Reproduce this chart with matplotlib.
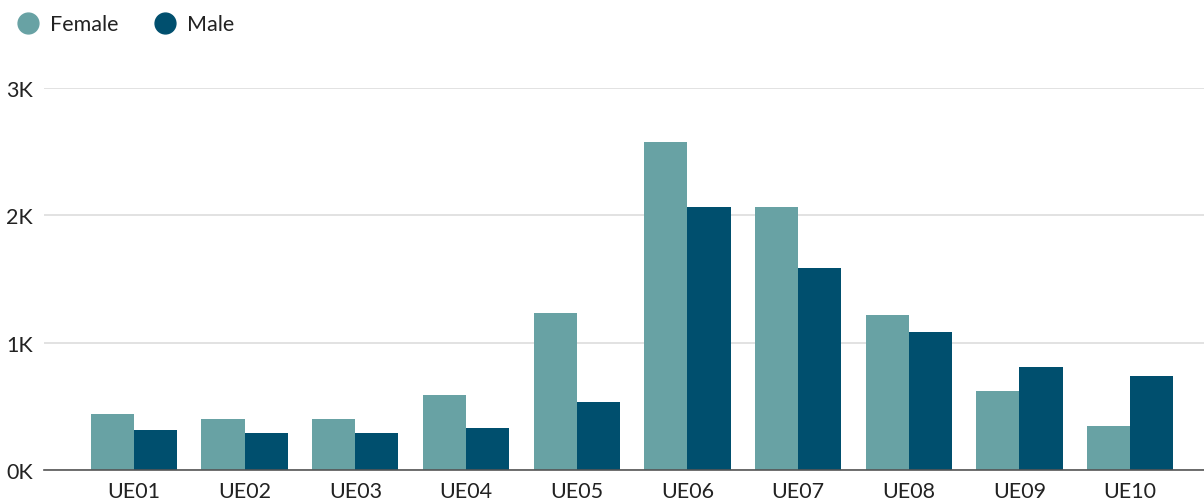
import numpy as np
import matplotlib.pyplot as plt
from matplotlib.lines import Line2D
from matplotlib.ticker import FuncFormatter

plt.rcParams["font.family"] = ["Lato", "DejaVu Sans"]

regions = ["UE01", "UE02", "UE03", "UE04", "UE05", "UE06", "UE07", "UE08", "UE09", "UE10"]
female = [440, 400, 400, 590, 1235, 2575, 2065, 1218, 620, 346]
male = [314, 290, 290, 330, 534, 2065, 1586, 1084, 809, 738]

female_color = "#68A2A4"
male_color = "#004F6E"

fig = plt.figure(figsize=(12.04, 5.02), dpi=100)
ax = fig.add_axes([44 / 1204, 1 - 471 / 502, 1 - 44 / 1204, (471 - 89) / 502])

x = np.arange(len(regions))
w = 0.39
ax.bar(x - w / 2, female, width=w, color=female_color, zorder=2)
ax.bar(x + w / 2, male, width=w, color=male_color, zorder=2)

ax.set_xlim(-0.813, 9.668)
ax.set_ylim(0, 3000)
ax.set_yticks([0, 1000, 2000, 3000])
ax.yaxis.set_major_formatter(FuncFormatter(lambda v, p: f"{int(v / 1000)}K"))
ax.set_xticks(x)
ax.set_xticklabels(regions)

ax.grid(axis="y", color="#DDDDDD", linewidth=1.2, zorder=0)
ax.set_axisbelow(True)
for s in ["top", "right", "left"]:
    ax.spines[s].set_visible(False)
ax.spines["bottom"].set_color("#555555")
ax.spines["bottom"].set_linewidth(1.2)
ax.spines["bottom"].set_zorder(3)

ax.tick_params(axis="x", length=0, pad=8, labelsize=15.5, labelcolor="#222222")
ax.tick_params(axis="y", length=0, pad=0, labelsize=15.5, labelcolor="#222222")
for lbl in ax.get_yticklabels():
    lbl.set_horizontalalignment("left")
    lbl.set_x(-44 / 1160 + 6 / 1160)

handles = [
    Line2D([], [], marker="o", linestyle="", markersize=15, color=female_color),
    Line2D([], [], marker="o", linestyle="", markersize=15, color=male_color),
]
fig.legend(handles, ["Female", "Male"], loc="upper left", bbox_to_anchor=(0.0, 1.0),
           ncol=2, frameon=False, fontsize=15.5, handletextpad=0.4, columnspacing=1.6,
           borderaxespad=0.3, handlelength=1.2, labelcolor="#222222")

fig.savefig("out.png", dpi=100)
